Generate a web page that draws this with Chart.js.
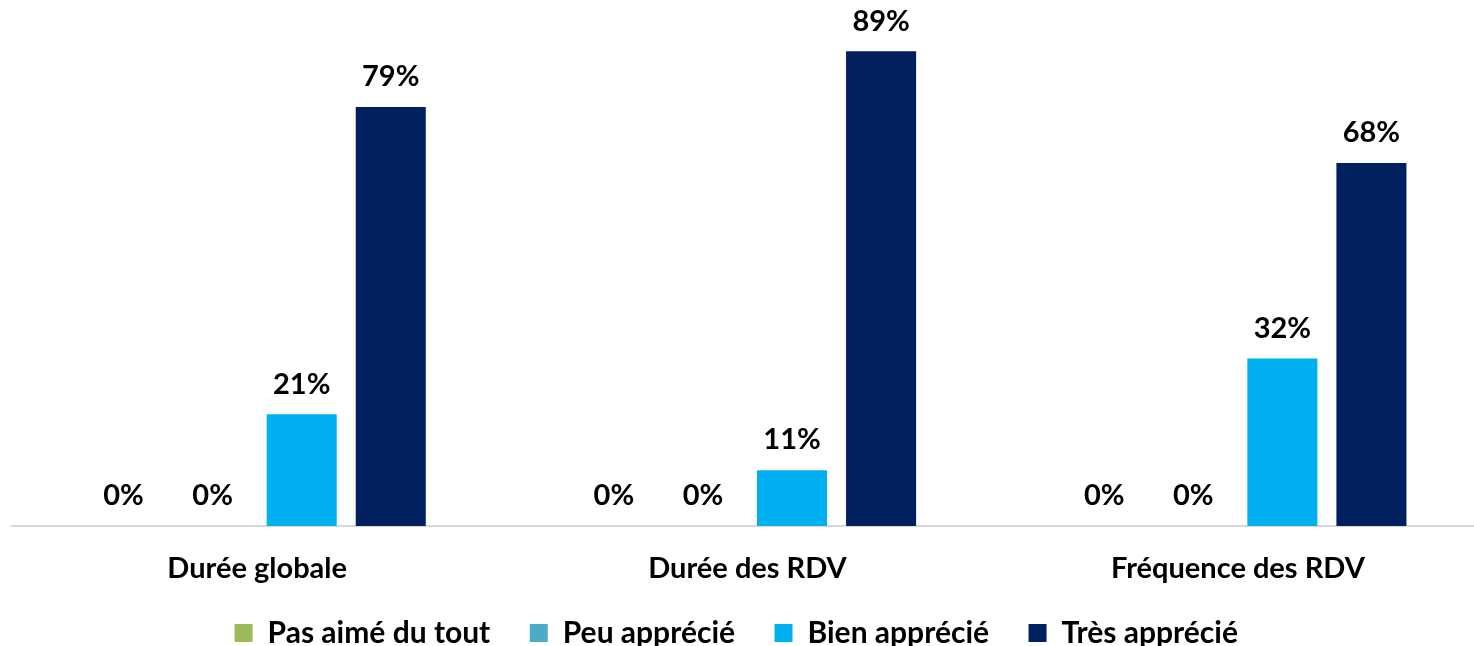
<!DOCTYPE html>
<html>
<head>
<meta charset="utf-8">
<script src="https://cdn.jsdelivr.net/npm/chart.js@4.4.1/dist/chart.umd.min.js"></script>
<style>
  html, body { margin: 0; padding: 0; background: #fff; overflow: hidden; }
  #wrap { position: relative; width: 1484px; height: 646px; }
</style>
</head>
<body>
<div id="wrap"><canvas id="chart"></canvas></div>
<script>
// categories and series
var categories = ["Durée globale", "Durée des RDV", "Fréquence des RDV"];
var seriesNames = ["Pas aimé du tout", "Peu apprécié", "Bien apprécié", "Très apprécié"];
var seriesColors = ["#9BBB59", "#4BACC6", "#00B0F0", "#002060"];

var pasAime = [0, 0, 0];
var peuApprecie = [0, 0, 0];
var bienApprecie = [21.05, 10.53, 31.58];
var tresApprecie = [78.95, 89.47, 68.42];

var allValues = [pasAime, peuApprecie, bienApprecie, tresApprecie];

var FONT = "Lato";
var FSIZE = 29;

// draw the % above every bar
var valueLabels = {
    id: "valueLabels",
    afterDatasetsDraw: function (chart) {
        var ctx = chart.ctx;
        ctx.save();
        ctx.font = "bold " + FSIZE + "px " + FONT;
        ctx.fillStyle = "#000";
        ctx.textAlign = "center";
        ctx.textBaseline = "middle";
        chart.data.datasets.forEach(function (ds, i) {
            var meta = chart.getDatasetMeta(i);
            meta.data.forEach(function (bar, j) {
                ctx.fillText(Math.round(ds.data[j]) + "%", bar.x, bar.y - 30);
            });
        });
        ctx.restore();
    }
};

var datasets = [];
for (var i = 0; i < seriesNames.length; i++) {
    datasets.push({
        label: seriesNames[i],
        data: allValues[i],
        backgroundColor: seriesColors[i],
        borderWidth: 0,
        categoryPercentage: 0.7265,
        barPercentage: 0.7865
    });
}

new Chart(document.getElementById("chart"), {
    type: "bar",
    data: { labels: categories, datasets: datasets },
    options: {
        responsive: true,
        maintainAspectRatio: false,
        animation: false,
        layout: { padding: { left: 12, right: 1, top: 6, bottom: -12 } },
        plugins: {
            tooltip: { enabled: false },
            legend: {
                position: "bottom",
                labels: {
                    color: "#000",
                    font: { family: FONT, size: 30, weight: "bold" },
                    boxWidth: 18,
                    boxHeight: 18,
                    padding: 17,
                    generateLabels: function (chart) {
                        var items = Chart.defaults.plugins.legend.labels.generateLabels(chart);
                        items.forEach(function (it) { it.text = it.text + "\u2003"; });
                        return items;
                    }
                }
            }
        },
        scales: {
            x: {
                grid: { display: false, drawTicks: false },
                border: { display: true, color: "#D9D9D9", width: 2 },
                ticks: {
                    color: "#000",
                    padding: 25,
                    font: { family: FONT, size: FSIZE, weight: "bold" }
                },
                afterFit: function (scale) { scale.height = 75; }
            },
            y: {
                display: false,
                min: 0,
                max: 98
            }
        }
    },
    plugins: [valueLabels]
});
</script>
</body>
</html>
